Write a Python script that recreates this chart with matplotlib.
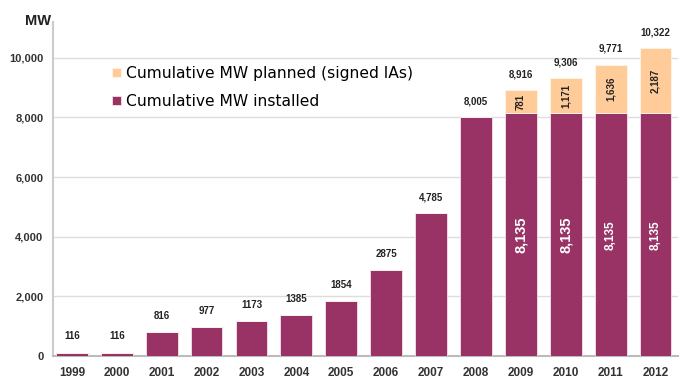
import matplotlib
matplotlib.use('agg')
import matplotlib.pyplot as plt
import numpy as np

years = ['1999', '2000', '2001', '2002', '2003', '2004', '2005', '2006',
         '2007', '2008', '2009', '2010', '2011', '2012']
installed = [116, 116, 816, 977, 1173, 1385, 1854, 2875, 4785, 8005,
             8135, 8135, 8135, 8135]
planned = [0, 0, 0, 0, 0, 0, 0, 0, 0, 0, 781, 1171, 1636, 2187]
total_labels = ['116', '116', '816', '977', '1173', '1385', '1854', '2875',
                '4,785', '8,005', '8,916', '9,306', '9,771', '10,322']
planned_labels = ['', '', '', '', '', '', '', '', '', '', '781', '1,171', '1,636', '2,187']
installed_labels = ['', '', '', '', '', '', '', '', '', '', '8,135', '8,135', '8,135', '8,135']
yticks = [0, 2000, 4000, 6000, 8000, 10000]

MAROON = '#993366'
PEACH = '#FFCC99'
narrow = ['Liberation Sans', 'DejaVu Sans']

fig = plt.figure(figsize=(6.79, 3.80), dpi=100)
ax = fig.add_axes([53 / 679, 1 - 356 / 380, 625 / 679, 334 / 380])

x = np.arange(len(years))
inst = np.array(installed)
plan = np.array(planned)
width = 0.71

ax.bar(x, inst, width, color=MAROON, edgecolor='#f3e3ea', linewidth=0.6, zorder=3,
       label='Cumulative MW installed')
ax.bar(x, plan, width, bottom=inst, color=PEACH, edgecolor='#fff4ea', linewidth=0.6,
       zorder=3, label='Cumulative MW planned (signed IAs)')

# totals above bars
for i in range(len(years)):
    ax.annotate(total_labels[i], (x[i], inst[i] + plan[i]), xytext=(0, 8),
                textcoords='offset points', ha='center', va='bottom',
                fontsize=7, fontweight='bold', color='#222222', family=narrow)

# values inside bars
for i in range(len(years)):
    if planned_labels[i]:
        ax.text(x[i], inst[i] + plan[i] / 2, planned_labels[i], rotation=90,
                ha='center', va='center', fontsize=7, fontweight='bold',
                color='#222222', family=narrow, zorder=4)
    if installed_labels[i]:
        big = i < 12
        ax.text(x[i], inst[i] / 2, installed_labels[i], rotation=90,
                ha='center', va='center', fontsize=10.5 if big else 8.5,
                fontweight='bold', color='white', family=narrow, zorder=4)

ax.set_xlim(-0.42, 13.5)
ax.set_ylim(0, 11200)
ax.set_yticks(yticks)
ax.set_yticklabels(['{:,}'.format(v) for v in yticks], fontsize=8,
                   fontweight='bold', color='#333333', family=narrow)
ax.set_xticks(x)
ax.set_xticklabels(years, fontsize=8.5, fontweight='bold', color='#333333', family=narrow)
ax.tick_params(axis='both', length=0)
ax.tick_params(axis='y', pad=7)
ax.tick_params(axis='x', pad=8)

ax.grid(axis='y', color='#dddddd', linewidth=1, zorder=0)
for s in ['top', 'right']:
    ax.spines[s].set_visible(False)
ax.spines['left'].set_color('#cccccc')
ax.spines['left'].set_linewidth(1.5)
ax.spines['bottom'].set_color('#bbbbbb')
ax.spines['bottom'].set_linewidth(1.5)

fig.text(51 / 679, 1 - 21 / 380, 'MW', ha='right', va='center', fontsize=10.5,
         fontweight='bold', color='#222222', family=narrow)

handles, labels = ax.get_legend_handles_labels()
leg = ax.legend(handles[::-1], labels[::-1], loc='upper left',
                bbox_to_anchor=(0.085, 0.886), frameon=False, fontsize=11.2,
                handlelength=0.55, handleheight=0.55, handletextpad=0.35,
                labelspacing=0.8, borderaxespad=0)

fig.savefig('out.png', dpi=100)
